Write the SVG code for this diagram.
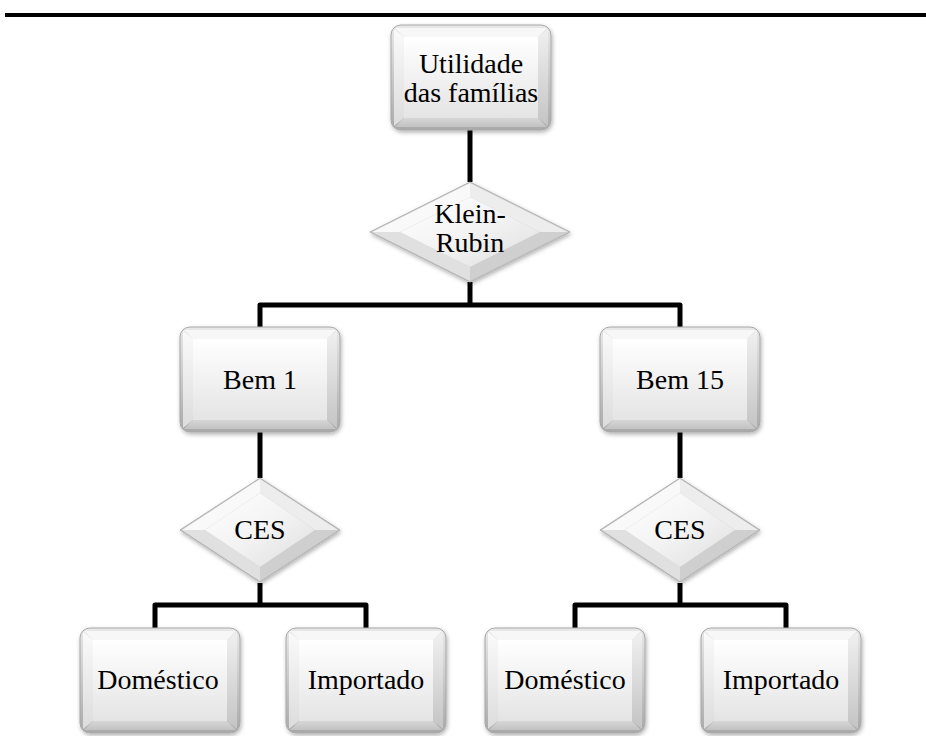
<svg xmlns="http://www.w3.org/2000/svg" xmlns:xlink="http://www.w3.org/1999/xlink" width="926" height="736" viewBox="0 0 926 736">
<style>
.lbl{font-family:"Liberation Serif","Times New Roman",serif;font-size:28px;fill:#000;text-anchor:middle}
.conn{fill:none;stroke:#000;stroke-width:5;stroke-linejoin:round}
.rim{fill:url(#rimG);stroke:#a8a8a8;stroke-width:1}
.ft{fill:#f7f7f7}.fl{fill:url(#leftG)}.fr{fill:url(#rightG)}.fb{fill:url(#botG)}
.face{fill:url(#faceG)}
.dul{fill:#f9f9f9}.dur{fill:#ededed}.dlr{fill:#cfcfcf}.dll{fill:#e0e0e0}
.dface{fill:url(#dfaceG)}
</style>
<defs>
<filter id="sh" x="-10%" y="-10%" width="125%" height="130%">
<feDropShadow dx="1" dy="2" stdDeviation="2" flood-color="#000" flood-opacity="0.3"/>
</filter>
<linearGradient id="rimG" x1="0" y1="0" x2="0" y2="1"><stop offset="0" stop-color="#e8e8e8"/><stop offset="1" stop-color="#a9a9a9"/></linearGradient>
<linearGradient id="faceG" x1="0" y1="0" x2="0" y2="1"><stop offset="0" stop-color="#ffffff"/><stop offset="1" stop-color="#e4e4e4"/></linearGradient>
<linearGradient id="leftG" x1="0" y1="0" x2="0" y2="1"><stop offset="0" stop-color="#fafafa"/><stop offset="1" stop-color="#dcdcdc"/></linearGradient>
<linearGradient id="rightG" x1="0" y1="0" x2="0" y2="1"><stop offset="0" stop-color="#f0f0f0"/><stop offset="1" stop-color="#c4c4c4"/></linearGradient>
<linearGradient id="botG" x1="0" y1="0" x2="0" y2="1"><stop offset="0" stop-color="#d6d6d6"/><stop offset="1" stop-color="#c2c2c2"/></linearGradient>
<linearGradient id="dfaceG" x1="0" y1="0" x2="1" y2="1"><stop offset="0" stop-color="#ffffff"/><stop offset="0.5" stop-color="#f3f3f3"/><stop offset="1" stop-color="#dedede"/></linearGradient>
<g id="box">
<rect class="rim" x="0" y="0" width="160" height="105" rx="10" ry="10" filter="url(#sh)"/>
<polygon class="ft" points="4,3 156,3 147,12 13,12"/>
<polygon class="fl" points="3,4 13,12 13,93 3,101"/>
<polygon class="fr" points="157,4 147,12 147,93 157,101"/>
<polygon class="fb" points="4,102 13,93 147,93 156,102"/>
<rect class="face" x="13" y="12" width="134" height="81"/>
</g>
<g id="dia1">
<polygon points="0,-50 100,0 0,50 -100,0" fill="#c4c4c4" stroke="#b0b0b0" stroke-width="1" filter="url(#sh)"/>
<polygon class="dul" points="0,-49 -98,0 -70,0 0,-35"/>
<polygon class="dur" points="0,-49 98,0 70,0 0,-35"/>
<polygon class="dlr" points="0,49 98,0 70,0 0,35"/>
<polygon class="dll" points="0,49 -98,0 -70,0 0,35"/>
<polygon class="dface" points="0,-35 70,0 0,35 -70,0"/>
</g>
<g id="dia2">
<polygon points="0,-52 80,0 0,52 -80,0" fill="#c4c4c4" stroke="#b0b0b0" stroke-width="1" filter="url(#sh)"/>
<polygon class="dul" points="0,-51 -78,0 -55,0 0,-37"/>
<polygon class="dur" points="0,-51 78,0 55,0 0,-37"/>
<polygon class="dlr" points="0,51 78,0 55,0 0,37"/>
<polygon class="dll" points="0,51 -78,0 -55,0 0,37"/>
<polygon class="dface" points="0,-37 55,0 0,37 -55,0"/>
</g>
</defs>
<rect x="0" y="0" width="926" height="736" fill="#fff"/>
<line x1="5" y1="15" x2="926" y2="15" stroke="#000" stroke-width="4"/>
<g id="connectors">
<path class="conn" d="M470,130 V182"/>
<path class="conn" d="M470,282 V305"/>
<path class="conn" d="M260,327 V305 H680 V327"/>
<path class="conn" d="M260,432 V478"/>
<path class="conn" d="M680,432 V478"/>
<path class="conn" d="M260,583 V605"/>
<path class="conn" d="M680,583 V605"/>
<path class="conn" d="M155,628 V605 H366 V628"/>
<path class="conn" d="M575,628 V605 H786 V628"/>
</g>
<g id="n_utilidade">
<use xlink:href="#box" x="391" y="25"/>
<text class="lbl" x="471" y="73">Utilidade</text>
<text class="lbl" x="471" y="102">das famílias</text>
</g>
<g id="n_kleinrubin">
<use xlink:href="#dia1" x="470" y="232"/>
<text class="lbl" x="470" y="223">Klein-</text>
<text class="lbl" x="470" y="252">Rubin</text>
</g>
<g id="n_bem1">
<use xlink:href="#box" x="180" y="327"/>
<text class="lbl" x="260" y="389">Bem 1</text>
</g>
<g id="n_bem15">
<use xlink:href="#box" x="600" y="327"/>
<text class="lbl" x="680" y="389">Bem 15</text>
</g>
<g id="n_ces1">
<use xlink:href="#dia2" x="260" y="530"/>
<text class="lbl" x="260" y="539">CES</text>
</g>
<g id="n_ces2">
<use xlink:href="#dia2" x="680" y="530"/>
<text class="lbl" x="680" y="539">CES</text>
</g>
<g id="n_dom1">
<use xlink:href="#box" x="80" y="628"/>
<text class="lbl" x="158" y="689">Doméstico</text>
</g>
<g id="n_imp1">
<use xlink:href="#box" x="286" y="628"/>
<text class="lbl" x="366" y="689">Importado</text>
</g>
<g id="n_dom2">
<use xlink:href="#box" x="485" y="628"/>
<text class="lbl" x="565" y="689">Doméstico</text>
</g>
<g id="n_imp2">
<use xlink:href="#box" x="701" y="628"/>
<text class="lbl" x="781" y="689">Importado</text>
</g>
</svg>
